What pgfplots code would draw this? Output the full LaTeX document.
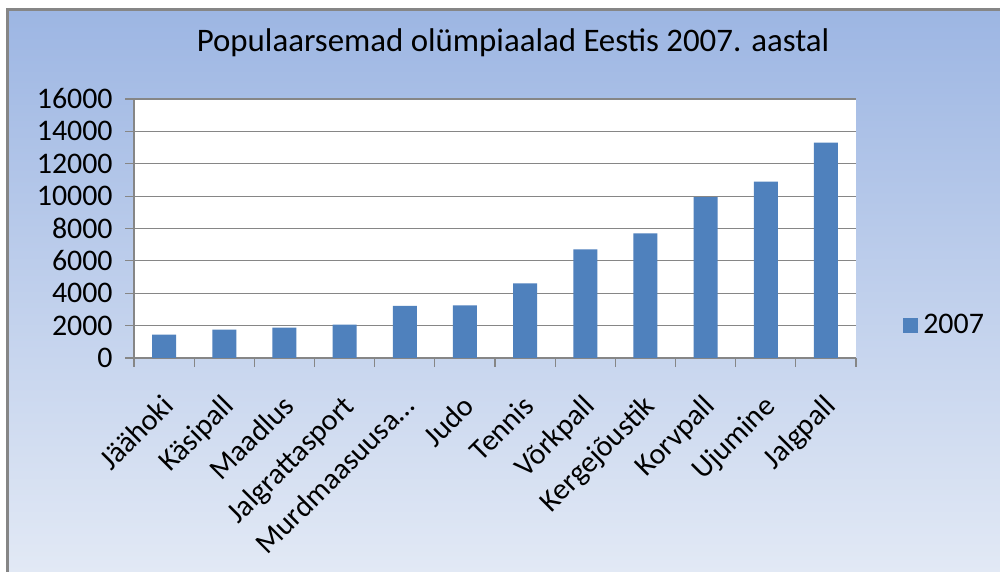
\documentclass[border=0pt]{standalone}
\usepackage{pgfplots}
\pgfplotsset{compat=1.18}
\usepackage{fontspec}
\setmainfont{Carlito}

\definecolor{barblue}{HTML}{4F81BD}
\definecolor{gridgray}{HTML}{868686}
\definecolor{bgtop}{HTML}{9DB6E3}
\definecolor{bgbottom}{HTML}{E2E9F5}

\begin{document}
\begin{tikzpicture}
% chart area: 1000x572 px -> 500x286 bp
\useasboundingbox (0,0) rectangle (500bp,286bp);
\fill[white] (0,0) rectangle (500bp,286bp);
\shade[top color=bgtop, bottom color=bgbottom] (4.5bp,0) rectangle (500bp,280.5bp);
\fill[gridgray] (3bp,0) rectangle (4.5bp,282bp);
\fill[gridgray] (3bp,280.5bp) rectangle (500bp,282bp);

\begin{axis}[
    at={(67bp,107bp)}, anchor=south west,
    scale only axis,
    width=361bp, height=129.5bp,
    axis background/.style={fill=white},
    ybar, bar width=12bp,
    xmin=-0.5, xmax=11.5,
    ymin=0, ymax=16000,
    ytick={0,2000,...,16000},
    xtick={0,...,11},
    xticklabels={Jäähoki,Käsipall,Maadlus,Jalgrattasport,Murdmaasuusa…,Judo,Tennis,Võrkpall,Kergejõustik,Korvpall,Ujumine,Jalgpall},
    % tick marks drawn as minor ticks: between categories on x, at grid lines on y
    minor xtick={-0.5,0.5,...,11.5},
    minor ytick={0,2000,...,16000},
    major tick length=0pt,
    minor tick length=4.25bp,
    tick align=outside,
    tick style={draw=gridgray, line width=0.6bp},
    axis lines*=left,
    axis line style={draw=gridgray, line width=0.6bp},
    ymajorgrids=true,
    grid style={draw=gridgray, line width=0.6bp},
    scaled y ticks=false,
    /pgf/number format/1000 sep={},
    /pgf/number format/assume math mode=true,
    yticklabel style={font=\fontsize{15}{17}\selectfont, anchor=east, inner sep=0pt, xshift=-10.5bp},
    % shifts act in the rotated frame of the label
    xticklabel style={font=\fontsize{15}{17}\selectfont, rotate=45, anchor=north east, inner sep=0pt, yshift=-11bp, xshift=-13.6bp},
    title={Populaarsemad olümpiaalad Eestis 2007. aastal},
    title style={font=\fontsize{16.5}{19}\selectfont, at={(0.525,1)}, anchor=center, yshift=22bp},
    legend style={at={(rel axis cs:1.065,0.127)}, anchor=west, draw=none, fill=none,
        inner sep=0pt, font=\fontsize{15}{17}\selectfont,
        nodes={inner sep=2.5bp}},
    legend image code/.code={\fill[barblue] (0bp,-3.75bp) rectangle (7.5bp,3.75bp);},
]
\addplot[fill=barblue, draw=none] coordinates {
    (0,1450) (1,1760) (2,1880) (3,2060) (4,3220) (5,3250)
    (6,4610) (7,6710) (8,7700) (9,9940) (10,10900) (11,13310)
};
\addlegendentry{2007}
\end{axis}
\end{tikzpicture}
\end{document}
